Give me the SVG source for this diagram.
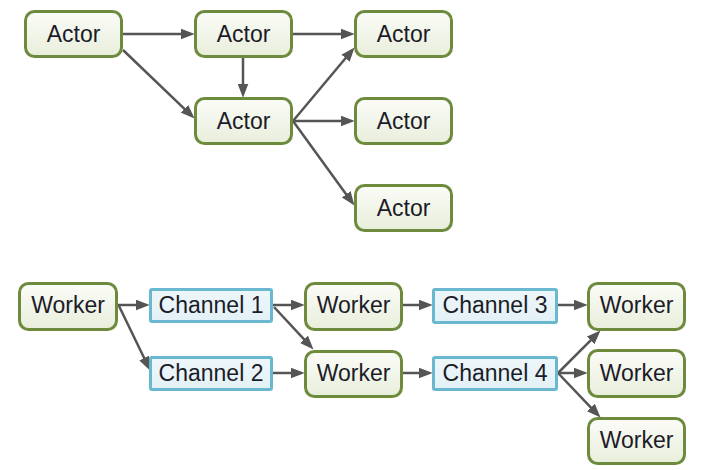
<svg xmlns="http://www.w3.org/2000/svg" width="727" height="470" viewBox="0 0 727 470">
<defs>
<linearGradient id="gNode" x1="0" y1="0" x2="0" y2="1">
<stop offset="0" stop-color="#fbfcf8"/>
<stop offset="1" stop-color="#e8eedb"/>
</linearGradient>
<linearGradient id="gChan" x1="0" y1="0" x2="0" y2="1">
<stop offset="0" stop-color="#eef7fa"/>
<stop offset="1" stop-color="#e2f1f6"/>
</linearGradient>
<marker id="arr" markerUnits="userSpaceOnUse" markerWidth="14" markerHeight="11" refX="3" refY="5" orient="auto" viewBox="0 0 13 10">
<path d="M0,0 L13,5 L0,10 z" fill="#555"/>
</marker>
<style>
.node rect{fill:url(#gNode);stroke:#6e8b3d;stroke-width:3}
.chan rect{fill:url(#gChan);stroke:#6ab8d0;stroke-width:3}
text{font-family:"Liberation Sans",Arial,sans-serif;font-size:23px;fill:#1c1c28;text-anchor:middle}
.conn line{stroke:#555;stroke-width:2.5;marker-end:url(#arr)}
</style>
</defs>
<rect width="727" height="470" fill="#fff"/>
<g id="connectors" class="conn">
<line x1="123" y1="34" x2="184" y2="34"/>
<line x1="123" y1="50" x2="186.8" y2="111.1"/>
<line x1="243" y1="58" x2="243" y2="87"/>
<line x1="293" y1="34" x2="344" y2="34"/>
<line x1="293" y1="121" x2="347.6" y2="55.7"/>
<line x1="293" y1="121" x2="344" y2="121"/>
<line x1="293" y1="121" x2="348.1" y2="196.9"/>
<line x1="118" y1="305" x2="139" y2="305"/>
<line x1="119" y1="306" x2="145.6" y2="361"/>
<line x1="273" y1="305" x2="294" y2="305"/>
<line x1="274" y1="307" x2="306.2" y2="341.7"/>
<line x1="273" y1="373" x2="294" y2="373"/>
<line x1="403" y1="305" x2="422" y2="305"/>
<line x1="403" y1="373" x2="422" y2="373"/>
<line x1="558" y1="305" x2="577" y2="305"/>
<line x1="558" y1="373" x2="592.9" y2="338.1"/>
<line x1="558" y1="373" x2="577" y2="373"/>
<line x1="558" y1="373" x2="593.1" y2="409.8"/>
</g>
<g id="actor1" class="node"><rect x="25.5" y="11.5" width="96" height="45" rx="9"/><text x="73.5" y="42">Actor</text></g>
<g id="actor2" class="node"><rect x="195.5" y="11.5" width="96" height="45" rx="9"/><text x="243.5" y="42">Actor</text></g>
<g id="actor3" class="node"><rect x="355.5" y="11.5" width="96" height="45" rx="9"/><text x="403.5" y="42">Actor</text></g>
<g id="actor4" class="node"><rect x="195.5" y="98.5" width="96" height="45" rx="9"/><text x="243.5" y="129">Actor</text></g>
<g id="actor5" class="node"><rect x="355.5" y="98.5" width="96" height="45" rx="9"/><text x="403.5" y="129">Actor</text></g>
<g id="actor6" class="node"><rect x="355.5" y="185.5" width="96" height="45" rx="9"/><text x="403.5" y="216">Actor</text></g>
<g id="worker1" class="node"><rect x="19.5" y="283.5" width="97" height="46" rx="9"/><text x="68" y="313">Worker</text></g>
<g id="channel1" class="chan"><rect x="150.5" y="289.5" width="121" height="32" rx="1.5"/><text x="211" y="313">Channel 1</text></g>
<g id="channel2" class="chan"><rect x="150.5" y="357.5" width="121" height="32" rx="1.5"/><text x="211" y="381">Channel 2</text></g>
<g id="worker2" class="node"><rect x="305.5" y="283.5" width="96" height="46" rx="9"/><text x="353.5" y="313">Worker</text></g>
<g id="worker3" class="node"><rect x="305.5" y="351.5" width="96" height="45" rx="9"/><text x="353.5" y="381">Worker</text></g>
<g id="channel3" class="chan"><rect x="433.5" y="289.5" width="123" height="33" rx="1.5"/><text x="495" y="313">Channel 3</text></g>
<g id="channel4" class="chan"><rect x="433.5" y="357.5" width="123" height="32" rx="1.5"/><text x="495" y="381">Channel 4</text></g>
<g id="worker4" class="node"><rect x="588.5" y="283.5" width="96" height="46" rx="9"/><text x="636.5" y="313">Worker</text></g>
<g id="worker5" class="node"><rect x="588.5" y="350.5" width="96" height="46" rx="9"/><text x="636.5" y="381">Worker</text></g>
<g id="worker6" class="node"><rect x="588.5" y="418.5" width="96" height="45" rx="9"/><text x="636.5" y="448">Worker</text></g>
</svg>
